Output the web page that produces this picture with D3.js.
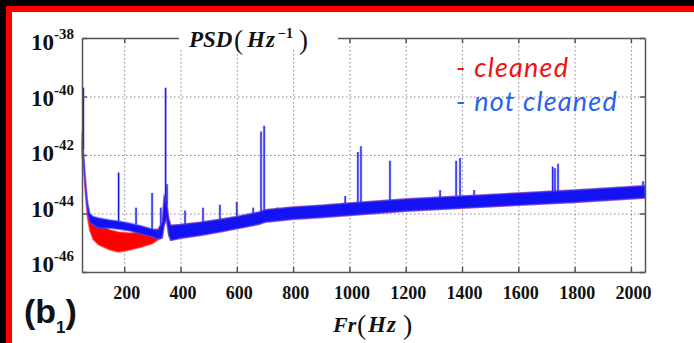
<!DOCTYPE html>
<html>
<head>
<meta charset="utf-8">
<script src="https://cdn.jsdelivr.net/npm/d3@7"></script>
<style>
  body { margin: 0; background: #000; }
  svg { display: block; }
</style>
</head>
<body>
<div id="chart-area"></div>
<script>

// ---- DATA (log10 of PSD) ----

var freqs = [50, 55, 60, 65, 70, 78, 90, 110, 150, 180, 220, 260, 300, 320, 335, 342, 350, 358, 365, 400, 470, 540, 600, 680, 700, 800, 900, 1000, 1200, 1400, 1600, 1800, 2050];

// not cleaned (blue) band: upper and lower edge
var notCleanedHi = [-41.2, -41.8, -42.5, -43.1, -43.6, -44.0, -44.1, -44.15, -44.22, -44.26, -44.33, -44.42, -44.53, -44.56, -44.3, -43.4, -43.55, -44.15, -44.4, -44.38, -44.3, -44.2, -44.1, -43.95, -43.87, -43.78, -43.72, -43.64, -43.5, -43.4, -43.3, -43.2, -43.05];
var notCleanedLo = [-41.8, -42.2, -42.9, -43.5, -44.0, -44.3, -44.4, -44.5, -44.5, -44.54, -44.6, -44.7, -44.8, -44.87, -44.84, -44.4, -44.2, -44.74, -44.92, -44.85, -44.75, -44.63, -44.52, -44.37, -44.3, -44.2, -44.14, -44.07, -43.92, -43.82, -43.72, -43.62, -43.47];

// cleaned (red) band
var cleanedHi = [-41.5, -42.0, -42.7, -43.3, -43.8, -44.2, -44.3, -44.4, -44.56, -44.63, -44.67, -44.63, -44.56, -44.53, -44.3, -43.4, -43.55, -44.15, -44.4, -44.38, -44.3, -44.2, -44.1, -43.95, -43.87, -43.78, -43.72, -43.64, -43.5, -43.4, -43.3, -43.2, -43.05];
var cleanedLo = [-42.0, -42.4, -43.1, -43.7, -44.2, -44.6, -44.9, -45.08, -45.25, -45.32, -45.25, -45.15, -45.03, -44.9, -44.84, -44.4, -44.2, -44.74, -44.92, -44.85, -44.75, -44.63, -44.52, -44.37, -44.3, -44.2, -44.14, -44.07, -43.92, -43.82, -43.72, -43.62, -43.47];

// narrow lines
var spikeFreqs = [55, 180, 242, 299, 330, 347, 352, 416, 480, 540, 600, 658, 686, 697, 743, 985, 1030, 1041, 1144, 1322, 1379, 1393, 1443, 1722, 1730, 1741, 2043];
var spikePeaks = [-39.7, -42.6, -43.8, -43.3, -43.8, -39.7, -43.0, -43.9, -43.8, -43.7, -43.6, -43.8, -41.2, -41.0, -43.8, -43.4, -41.9, -41.7, -42.2, -43.2, -42.2, -42.1, -43.2, -42.4, -42.45, -42.3, -42.9];

var xTicks = [200, 400, 600, 800, 1000, 1200, 1400, 1600, 1800, 2000];
var yExps = [-46, -44, -42, -40, -38];
var gridExps = [-44, -42, -40];


// ---- CHART AREA ----

var W = 694, H = 343;
var margin = {top: 38, right: 49, bottom: 71, left: 82},
    width = W - margin.left - margin.right,
    height = H - margin.top - margin.bottom;

var root = d3.select("#chart-area").append("svg")
    .attr("width", W)
    .attr("height", H);

// black / red frame / white sheet
root.append("rect").attr("width", W).attr("height", H).attr("fill", "#000");
root.append("rect").attr("x", 6).attr("y", 6).attr("width", W).attr("height", H).attr("fill", "#f00");
root.append("rect").attr("x", 12).attr("y", 12).attr("width", W).attr("height", H).attr("fill", "#fff");

var svg = root.append("g")
    .attr("transform", "translate(" + margin.left + "," + margin.top + ")");

var x = d3.scaleLinear().domain([50, 2050]).range([0, width]);
var y = d3.scaleLog().domain([1e-46, 1e-38]).range([height, 0]);
var p10 = function(e) { return Math.pow(10, e); };

var serif = "'Liberation Serif', 'Times New Roman', serif";

// ---- GRID ----
svg.append("g")
    .attr("class", "grid")
    .call(d3.axisBottom(x).tickValues(xTicks).tickSize(height).tickFormat(""))
    .call(function(g) { g.select(".domain").remove(); });

svg.append("g")
    .attr("class", "grid")
    .call(d3.axisLeft(y).tickValues(gridExps.map(p10)).tickSize(-width).tickFormat(""))
    .call(function(g) { g.select(".domain").remove(); });

svg.selectAll(".grid line")
    .attr("stroke", "#8a8a8a")
    .attr("stroke-width", 1)
    .attr("stroke-dasharray", "1.5,2.5");

// ---- BANDS ----
var idx = d3.range(freqs.length);

function band(hi, lo) {
    return d3.area()
        .x(function(i) { return x(freqs[i]); })
        .y0(function(i) { return y(p10(lo[i])); })
        .y1(function(i) { return y(p10(hi[i])); });
}

svg.append("path")
    .datum(idx)
    .attr("d", band(cleanedHi, cleanedLo))
    .attr("fill", "#ff0000")
    .attr("stroke", "#ff3030")
    .attr("stroke-opacity", 0.6)
    .attr("stroke-width", 1.5);

svg.append("path")
    .datum(idx)
    .attr("d", band(notCleanedHi, notCleanedLo))
    .attr("fill", "#1212f2")
    .attr("stroke", "#5050ff")
    .attr("stroke-opacity", 0.55)
    .attr("stroke-width", 1.6);

// ---- SPIKES ----
var bandTop = d3.scaleLinear().domain(freqs).range(notCleanedHi);

var spikes = svg.selectAll(".spike")
    .data(d3.range(spikeFreqs.length))
    .enter();

spikes.append("line")
    .attr("x1", function(i) { return x(spikeFreqs[i]); })
    .attr("x2", function(i) { return x(spikeFreqs[i]); })
    .attr("y1", function(i) { return y(p10(bandTop(spikeFreqs[i]))); })
    .attr("y2", function(i) { return y(p10(spikePeaks[i])); })
    .attr("stroke", "#6b6bff")
    .attr("stroke-opacity", 0.55)
    .attr("stroke-width", 2.6);

spikes.append("line")
    .attr("x1", function(i) { return x(spikeFreqs[i]); })
    .attr("x2", function(i) { return x(spikeFreqs[i]); })
    .attr("y1", function(i) { return y(p10(bandTop(spikeFreqs[i]))); })
    .attr("y2", function(i) { return y(p10(spikePeaks[i])); })
    .attr("stroke", "#1010e8")
    .attr("stroke-width", 1.1);

// ---- AXES ----
var xAxisGroup = svg.append("g")
    .attr("class", "axis x-axis")
    .attr("transform", "translate(0," + height + ")")
    .call(d3.axisBottom(x).tickValues(xTicks).tickSizeInner(-5).tickSizeOuter(0).tickPadding(14).tickFormat(d3.format("d")))
    .attr("font-family", serif)
    .attr("font-size", 18)
    .attr("font-weight", "bold");

svg.append("g")
    .attr("class", "axis")
    .call(d3.axisTop(x).tickValues(xTicks).tickSizeInner(-5).tickSizeOuter(0).tickFormat(""));

svg.append("g")
    .attr("class", "axis")
    .call(d3.axisLeft(y).tickValues(yExps.map(p10)).tickSizeInner(-5).tickSizeOuter(0).tickFormat(""));

svg.append("g")
    .attr("class", "axis")
    .attr("transform", "translate(" + width + ",0)")
    .call(d3.axisRight(y).tickValues(yExps.map(p10)).tickSizeInner(-5).tickSizeOuter(0).tickFormat(""));

svg.selectAll(".axis .domain, .axis line")
    .attr("stroke", "#555")
    .attr("stroke-width", 1.5);

xAxisGroup.selectAll("text")
    .attr("fill", "#111")
    .attr("dx", 2);

// y labels: 10^exp
var labelY = d3.scaleLinear().domain([-46, -38]).range([height, 12]);

var yLab = svg.selectAll(".ylab")
    .data(yExps)
    .enter()
    .append("text")
    .attr("class", "ylab")
    .attr("x", -8)
    .attr("y", function(d) { return labelY(d); })
    .attr("text-anchor", "end")
    .attr("fill", "#111")
    .attr("font-family", serif)
    .attr("font-weight", "bold");

yLab.append("tspan").attr("font-size", 23).text("10");
yLab.append("tspan").attr("dy", -11).attr("font-size", 15).text(function(d) { return d; });

// ---- TITLE (breaks the top axis line) ----
root.append("rect")
    .attr("x", 179).attr("y", 28).attr("width", 159).attr("height", 22)
    .attr("fill", "#fff");

var title = root.append("text")
    .attr("y", 47)
    .attr("fill", "#111")
    .attr("font-family", serif);

title.append("tspan").attr("x", 189).attr("font-weight", "bold").attr("font-style", "italic").attr("font-size", 23).text("PSD");
title.append("tspan").attr("x", 234).attr("dy", 2).attr("font-size", 27).text("(");
title.append("tspan").attr("x", 247).attr("dy", -2).attr("font-weight", "bold").attr("font-style", "italic").attr("font-size", 23).attr("letter-spacing", 1).text("Hz");
title.append("tspan").attr("x", 278).attr("dy", -9).attr("font-weight", "bold").attr("font-size", 14).text("\u22121");
title.append("tspan").attr("x", 299).attr("dy", 11).attr("font-size", 27).text(")");

// x axis title
var xTitle = root.append("text")
    .attr("y", 332)
    .attr("fill", "#111")
    .attr("font-family", serif);

xTitle.append("tspan").attr("x", 333).attr("font-weight", "bold").attr("font-style", "italic").attr("font-size", 22).text("Fr");
xTitle.append("tspan").attr("x", 357).attr("dy", 2).attr("font-size", 28).text("(");
xTitle.append("tspan").attr("x", 368).attr("dy", -2).attr("font-weight", "bold").attr("font-style", "italic").attr("font-size", 23).attr("letter-spacing", 1).text("Hz");
xTitle.append("tspan").attr("x", 403).attr("dy", 2).attr("font-size", 28).text(")");

// ---- LEGEND ----
var legend = [
    {label: "- cleaned", color: "#f21212", y: 77},
    {label: "- not cleaned", color: "#2a62ee", y: 111}
];

root.selectAll(".legend")
    .data(legend)
    .enter()
    .append("text")
    .attr("class", "legend")
    .attr("x", 456)
    .attr("y", function(d) { return d.y; })
    .attr("fill", function(d) { return d.color; })
    .attr("xml:space", "preserve")
    .attr("font-family", "Lato, sans-serif")
    .attr("font-style", "italic")
    .attr("font-weight", 400)
    .attr("font-size", 27)
    .attr("letter-spacing", 1.2)
    .text(function(d) { return d.label; });

// ---- PANEL LABEL ----
var panel = root.append("text")
    .attr("x", 24)
    .attr("y", 323)
    .attr("fill", "#111")
    .attr("font-family", "'Liberation Sans', Arial, sans-serif")
    .attr("font-weight", "bold");

panel.append("tspan").attr("font-size", 34).text("(b");
panel.append("tspan").attr("dy", 10).attr("font-size", 17).text("1");
panel.append("tspan").attr("dy", -10).attr("font-size", 34).text(")");

</script>
</body>
</html>
